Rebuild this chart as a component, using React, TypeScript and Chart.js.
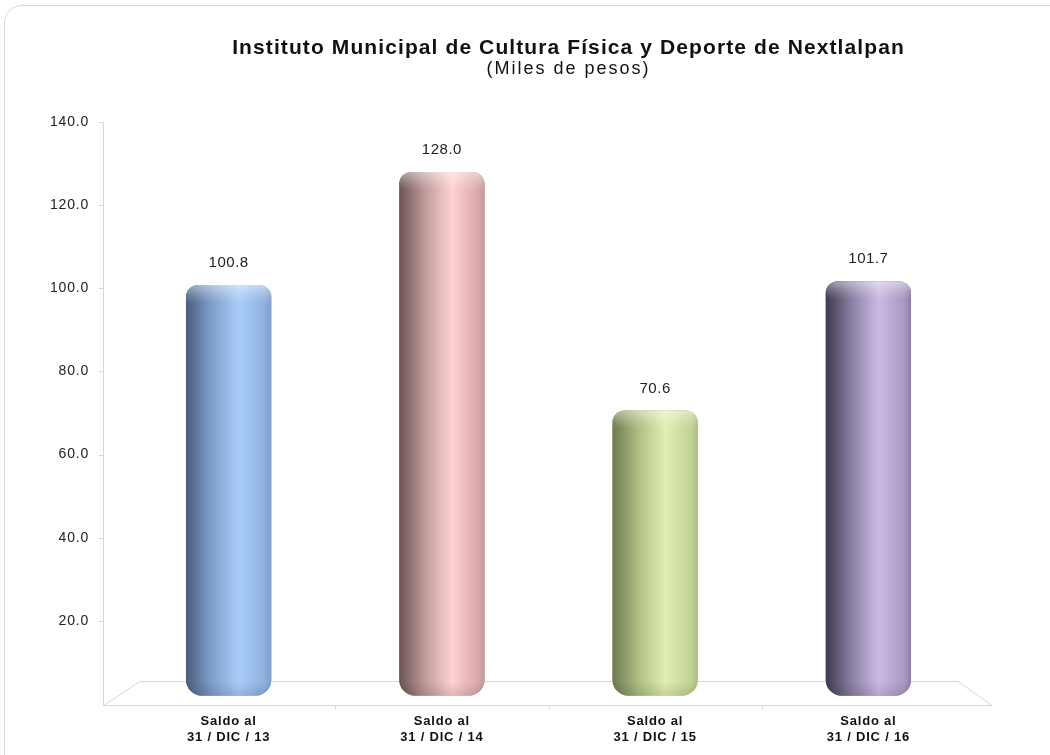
import React, { useEffect, useRef } from "react";
import { Chart, registerables } from "chart.js";

Chart.register(...registerables);

const categories: string[][] = [
  ["Saldo al", "31 / DIC / 13"],
  ["Saldo al", "31 / DIC / 14"],
  ["Saldo al", "31 / DIC / 15"],
  ["Saldo al", "31 / DIC / 16"],
];
const saldos: number[] = [100.8, 128.0, 70.6, 101.7];
const yTicks: number[] = [20, 40, 60, 80, 100, 120, 140];
const titleText = "Instituto Municipal de Cultura Física y Deporte de Nextlalpan";
const subtitleText = "(Miles de pesos)";

// [dark left, mid, highlight, right edge]
const palettes: string[][] = [
  ["#4b5e7e", "#7f9ecb", "#a9cdfa", "#8eb0de"],
  ["#6c5353", "#c09a9a", "#ffd2d2", "#dca8ab"],
  ["#6c7a4f", "#aebd83", "#e0efb2", "#c2d294"],
  ["#3e3a4f", "#8a7ea3", "#cbbbe4", "#a999c2"],
];

const FONT = "'Liberation Sans', Arial, sans-serif";

function barPath(ctx: CanvasRenderingContext2D, bar: any) {
  const w = bar.width;
  const left = bar.x - w / 2;
  const top = Math.min(bar.y, bar.base);
  const h = Math.abs(bar.base - bar.y);
  ctx.beginPath();
  (ctx as any).roundRect(left, top, w, h, [12, 12, 16, 16]);
}

const decorPlugin = {
  id: "decor",
  beforeDraw(chart: any) {
    (chart.ctx as any).letterSpacing = "0.8px";
  },
  beforeDatasetsDraw(chart: any) {
    const { ctx, chartArea } = chart;
    const yScale = chart.scales.y;
    const axisX = chartArea.left - 19;
    const front = chartArea.bottom + 1;
    const back = front - 24;
    ctx.save();
    ctx.strokeStyle = "#d9d8c6";
    ctx.lineWidth = 1;
    // floor
    ctx.beginPath();
    ctx.moveTo(axisX + 0.5, front + 0.5);
    ctx.lineTo(chartArea.right + 17, front + 0.5);
    ctx.lineTo(chartArea.right - 17, back + 0.5);
    ctx.lineTo(axisX + 37, back + 0.5);
    ctx.closePath();
    ctx.stroke();
    // y axis line
    ctx.beginPath();
    ctx.moveTo(axisX + 0.5, chartArea.top);
    ctx.lineTo(axisX + 0.5, front);
    ctx.stroke();
    // y tick marks
    for (const v of yTicks) {
      const y = Math.round(yScale.getPixelForValue(v)) + 0.5;
      ctx.beginPath();
      ctx.moveTo(axisX - 4, y);
      ctx.lineTo(axisX, y);
      ctx.stroke();
    }
    // x tick marks between categories
    const xScale = chart.scales.x;
    for (let i = 1; i < categories.length; i++) {
      const x = Math.round((xScale.getPixelForValue(i - 1) + xScale.getPixelForValue(i)) / 2) + 0.5;
      ctx.beginPath();
      ctx.moveTo(x, front);
      ctx.lineTo(x, front + 4);
      ctx.stroke();
    }
    ctx.restore();
  },
  afterDatasetsDraw(chart: any) {
    const { ctx } = chart;
    const meta = chart.getDatasetMeta(0);
    ctx.save();
    meta.data.forEach((bar: any, i: number) => {
      const p = palettes[i];
      const w = bar.width;
      const left = bar.x - w / 2;
      const top = bar.y;
      // cylinder body
      const g = ctx.createLinearGradient(left, 0, left + w, 0);
      g.addColorStop(0, p[0]);
      g.addColorStop(0.3, p[1]);
      g.addColorStop(0.62, p[2]);
      g.addColorStop(0.92, p[3]);
      g.addColorStop(1, p[1]);
      barPath(ctx, bar);
      ctx.fillStyle = g;
      ctx.fill();
      // top cap sheen
      ctx.save();
      barPath(ctx, bar);
      ctx.clip();
      const vg = ctx.createLinearGradient(0, top, 0, top + 18);
      vg.addColorStop(0, "rgba(255,255,255,0.45)");
      vg.addColorStop(0.6, "rgba(255,255,255,0.15)");
      vg.addColorStop(1, "rgba(255,255,255,0)");
      ctx.fillStyle = vg;
      ctx.fillRect(left, top, w, 18);
      const bg = ctx.createLinearGradient(0, bar.base - 14, 0, bar.base);
      bg.addColorStop(0, "rgba(0,0,0,0)");
      bg.addColorStop(1, "rgba(0,0,0,0.12)");
      ctx.fillStyle = bg;
      ctx.fillRect(left, bar.base - 14, w, 14);
      ctx.restore();
      // value label
      ctx.fillStyle = "#222";
      ctx.font = `15px ${FONT}`;
      (ctx as any).letterSpacing = "0.5px";
      ctx.textAlign = "center";
      ctx.textBaseline = "middle";
      ctx.fillText(saldos[i].toFixed(1), bar.x, top - 22);
    });
    ctx.restore();
  },
  afterDraw(chart: any) {
    const { ctx, chartArea } = chart;
    const cx = (chartArea.left + chartArea.right) / 2 + 20;
    ctx.save();
    ctx.fillStyle = "#111";
    ctx.textAlign = "center";
    ctx.textBaseline = "middle";
    ctx.font = `bold 21px ${FONT}`;
    (ctx as any).letterSpacing = "1.1px";
    ctx.fillText(titleText, cx, 48);
    ctx.font = `18px ${FONT}`;
    (ctx as any).letterSpacing = "2px";
    ctx.fillText(subtitleText, cx, 69);
    ctx.restore();
  },
};

export default function App() {
  const ref = useRef<HTMLCanvasElement | null>(null);

  useEffect(() => {
    if (!ref.current) return;
    const chart = new Chart(ref.current, {
      type: "bar",
      data: {
        labels: categories,
        datasets: [
          {
            data: saldos,
            base: 2,
            barPercentage: 0.4,
            categoryPercentage: 1,
            borderSkipped: false,
            borderWidth: 0,
            borderRadius: { topLeft: 12, topRight: 12, bottomLeft: 16, bottomRight: 16 },
            backgroundColor: palettes.map((p) => p[1]),
          } as any,
        ],
      },
      options: {
        animation: false,
        responsive: false,
        maintainAspectRatio: false,
        layout: { padding: { left: 0, right: 75, top: 122, bottom: 0 } },
        plugins: {
          legend: { display: false },
          title: { display: false },
          tooltip: { enabled: false },
        },
        scales: {
          x: {
            offset: true,
            grid: { display: false, drawTicks: false },
            border: { display: false },
            ticks: {
              color: "#111",
              font: { family: FONT, size: 13, weight: "bold", lineHeight: 1.25 },
              padding: 9,
              maxRotation: 0,
            },
            afterFit: (s: any) => {
              s.height = 51;
            },
          },
          y: {
            min: 0,
            max: 140,
            grid: { display: false, drawTicks: false },
            border: { display: false },
            ticks: {
              stepSize: 20,
              padding: 33,
              color: "#222",
              font: { family: FONT, size: 14 },
              callback: (v: any) => (Number(v) === 0 ? "" : Number(v).toFixed(1)),
            },
            afterFit: (s: any) => {
              s.width = 122;
            },
          },
        },
      },
      plugins: [decorPlugin],
    });
    return () => chart.destroy();
  }, []);

  return (
    <div style={{ position: "fixed", left: 0, top: 0, width: 1050, height: 755, background: "#fff", overflow: "hidden" }}>
      <div
        style={{
          position: "absolute",
          left: 4,
          top: 5,
          width: 1080,
          height: 780,
          border: "1px solid #dcd9cc",
          borderRadius: 18,
          boxSizing: "border-box",
        }}
      />
      <canvas ref={ref} width={1050} height={755} style={{ position: "absolute", left: 0, top: 0 }} />
    </div>
  );
}
